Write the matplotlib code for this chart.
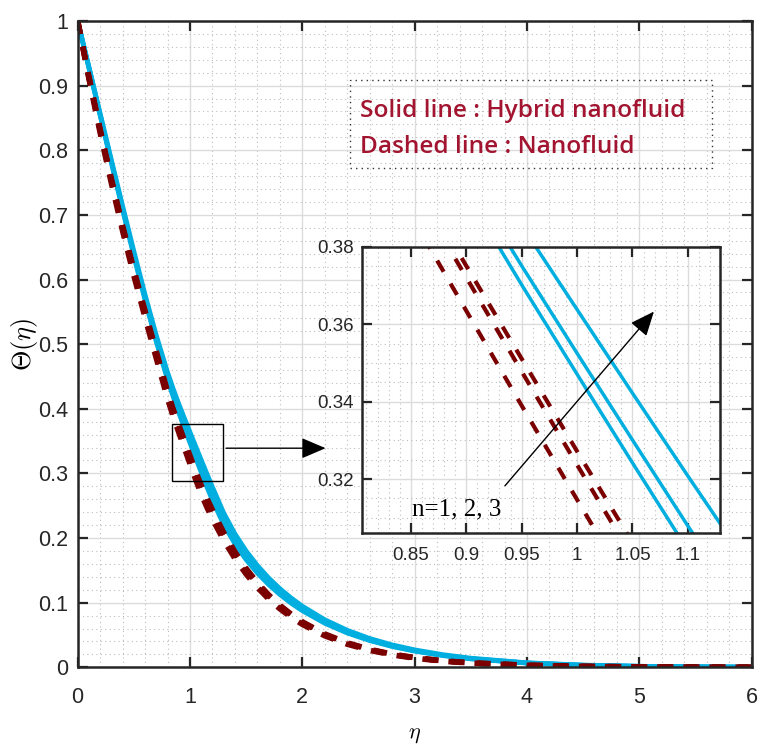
import matplotlib
matplotlib.use('Agg')
import matplotlib.pyplot as plt
from matplotlib.ticker import MultipleLocator, AutoMinorLocator, FuncFormatter
from matplotlib.patches import Rectangle

plt.rcParams['font.family'] = 'Liberation Sans'
plt.rcParams['mathtext.fontset'] = 'cm'

# eta grid
eta = [0, 0.1, 0.2, 0.3, 0.4, 0.5, 0.6, 0.7, 0.8, 0.85, 0.9, 0.95, 1.0, 1.05,
       1.1, 1.15, 1.2, 1.3, 1.4, 1.5, 1.6, 1.7, 1.8, 1.9, 2.0, 2.2, 2.4, 2.6,
       2.8, 3.0, 3.25, 3.5, 4.0, 4.5, 5.0, 5.5, 6.0]

# hybrid nanofluid (solid), n = 1, 2, 3
theta_hnf_n1 = [1.0, 0.9275, 0.854, 0.7805, 0.708, 0.6365, 0.568, 0.5035, 0.445,
                0.4188, 0.3940, 0.3702, 0.3471, 0.3242, 0.3016, 0.2792, 0.2580,
                0.2209, 0.1910, 0.1664, 0.1457, 0.1280, 0.1126, 0.0992, 0.0875,
                0.0681, 0.0530, 0.0413, 0.0321, 0.0250, 0.0181, 0.0130, 0.0065,
                0.0031, 0.0015, 0.0007, 0.0003]
theta_hnf_n2 = [1.0, 0.928, 0.855, 0.782, 0.710, 0.639, 0.571, 0.507, 0.449,
                0.4230, 0.3985, 0.3751, 0.3525, 0.3301, 0.3079, 0.2862, 0.2650,
                0.2270, 0.1963, 0.1710, 0.1497, 0.1315, 0.1157, 0.1020, 0.0899,
                0.0700, 0.0545, 0.0424, 0.0330, 0.0257, 0.0186, 0.0134, 0.0067,
                0.0032, 0.0015, 0.0007, 0.0003]
theta_hnf_n3 = [1.0, 0.929, 0.857, 0.785, 0.714, 0.644, 0.5765, 0.5135, 0.4565,
                0.4312, 0.4075, 0.3855, 0.3638, 0.3422, 0.3208, 0.2997, 0.2788,
                0.2388, 0.2065, 0.1799, 0.1575, 0.1383, 0.1217, 0.1073, 0.0946,
                0.0736, 0.0573, 0.0446, 0.0347, 0.0270, 0.0196, 0.0141, 0.0070,
                0.0034, 0.0016, 0.0007, 0.0003]

# nanofluid (dashed), n = 1, 2, 3
theta_nf_n1 = [1.0, 0.911, 0.827, 0.749, 0.675, 0.606, 0.541, 0.478, 0.4155,
               0.3882, 0.3635, 0.3390, 0.3147, 0.2906, 0.2680, 0.2478, 0.2292,
               0.1965, 0.1683, 0.1441, 0.1235, 0.1057, 0.0905, 0.0776, 0.0664,
               0.0487, 0.0357, 0.0262, 0.0192, 0.0141, 0.0095, 0.0064, 0.0030,
               0.0013, 0.0006, 0.0003, 0.0001]
theta_nf_n2 = [1.0, 0.913, 0.831, 0.754, 0.681, 0.613, 0.549, 0.486, 0.424,
               0.3966, 0.3721, 0.3478, 0.3237, 0.2998, 0.2775, 0.2575, 0.2390,
               0.2047, 0.1753, 0.1501, 0.1286, 0.1101, 0.0943, 0.0808, 0.0692,
               0.0507, 0.0372, 0.0273, 0.0200, 0.0147, 0.0099, 0.0067, 0.0031,
               0.0014, 0.0006, 0.0003, 0.0001]
theta_nf_n3 = [1.0, 0.9135, 0.832, 0.7555, 0.683, 0.615, 0.551, 0.4885, 0.4268,
               0.3993, 0.3751, 0.3511, 0.3272, 0.3036, 0.2815, 0.2617, 0.2433,
               0.2084, 0.1785, 0.1528, 0.1309, 0.1121, 0.0960, 0.0823, 0.0704,
               0.0516, 0.0379, 0.0278, 0.0204, 0.0150, 0.0101, 0.0068, 0.0032,
               0.0014, 0.0006, 0.0003, 0.0001]

solid_series = [theta_hnf_n1, theta_hnf_n2, theta_hnf_n3]
dashed_series = [theta_nf_n1, theta_nf_n2, theta_nf_n3]

BLUE = '#00AEE0'
MAROON = '#7B0000'
TEXT_RED = '#A2142F'
AX_COLOR = '#262626'


def fmt_g(v, pos):
    return '%g' % round(v, 4)


def style_axes(ax, labelsize, xpad, ypad, ny_minor):
    ax.grid(which='major', color='#DCDCDC', linewidth=1.0)
    ax.grid(which='minor', color='#BDBDBD', linewidth=0.8, linestyle=(0, (1, 3)))
    ax.xaxis.set_minor_locator(AutoMinorLocator(5))
    ax.yaxis.set_minor_locator(AutoMinorLocator(ny_minor))
    ax.tick_params(which='major', direction='in', length=7, width=1.6,
                   top=True, right=True, labelsize=labelsize, colors=AX_COLOR)
    ax.tick_params(axis='x', pad=xpad)
    ax.tick_params(axis='y', pad=ypad)
    ax.tick_params(which='minor', length=0)
    ax.xaxis.set_major_formatter(FuncFormatter(fmt_g))
    ax.yaxis.set_major_formatter(FuncFormatter(fmt_g))
    for sp in ax.spines.values():
        sp.set_linewidth(1.8)
        sp.set_color(AX_COLOR)


def draw_curves(ax, lw_solid, lw_dash, dash):
    for th in solid_series:
        ax.plot(eta, th, color=BLUE, linewidth=lw_solid, solid_capstyle='butt')
    for th in dashed_series:
        ax.plot(eta, th, color=MAROON, linewidth=lw_dash, linestyle=(0, dash))


fig = plt.figure(figsize=(7.6, 7.47), dpi=100)
ax = fig.add_axes([0.1022, 0.1067, 0.8868, 0.8652])

draw_curves(ax, 3.4, 4.0, (2.4, 2.3))
ax.set_xlim(0, 6)
ax.set_ylim(0, 1)
ax.xaxis.set_major_locator(MultipleLocator(1))
ax.yaxis.set_major_locator(MultipleLocator(0.1))
style_axes(ax, 15.5, 14, 7, 5)

ax.set_xlabel(r'$\eta$', fontsize=16)
ax.set_ylabel(r'$\Theta(\eta)$', fontsize=19)
ax.xaxis.set_label_coords(0.5, -0.088)
ax.yaxis.set_label_coords(-0.056, 0.5)

# text box
ax.add_patch(Rectangle((0.404, 0.773), 0.537, 0.135, transform=ax.transAxes,
                       fill=False, edgecolor='#333333', linewidth=1.0,
                       linestyle=(0, (1, 3)), zorder=5))
ax.text(0.419, 0.852, 'Solid line : Hybrid nanofluid', transform=ax.transAxes,
        family='Open Sans', fontweight='semibold', fontsize=17.6, color=TEXT_RED,
        va='baseline', zorder=6)
ax.text(0.419, 0.7957, 'Dashed line : Nanofluid', transform=ax.transAxes,
        family='Open Sans', fontweight='semibold', fontsize=17.6, color=TEXT_RED,
        va='baseline', zorder=6)

# zoom window and arrow to the inset
ax.add_patch(Rectangle((0.837, 0.289), 0.46, 0.087, fill=False,
                       edgecolor='black', linewidth=1.0, zorder=6))
ax.annotate('', xy=(2.232, 0.339), xytext=(1.297, 0.339),
            arrowprops=dict(arrowstyle='-|>,head_length=0.75,head_width=0.32',
                            color='black', linewidth=1.0, mutation_scale=20),
            annotation_clip=False, zorder=6)

# inset
axins = fig.add_axes([0.4763, 0.2861, 0.4711, 0.3836])
draw_curves(axins, 2.5, 3.0, (3.1, 3.3))
axins.set_xlim(0.806, 1.129)
axins.set_ylim(0.306, 0.38)
axins.xaxis.set_major_locator(MultipleLocator(0.05))
axins.yaxis.set_major_locator(MultipleLocator(0.02))
style_axes(axins, 13.5, 10, 6, 4)

axins.annotate('', xy=(1.071, 0.3638), xytext=(0.9333, 0.3177),
               arrowprops=dict(arrowstyle='-|>,head_length=0.75,head_width=0.32',
                               color='black', linewidth=1.0, mutation_scale=20))
axins.text(0.851, 0.3107, 'n=1, 2, 3', family='Liberation Serif', fontsize=18,
           color='black', va='baseline')

fig.savefig('out.png', dpi=100)
